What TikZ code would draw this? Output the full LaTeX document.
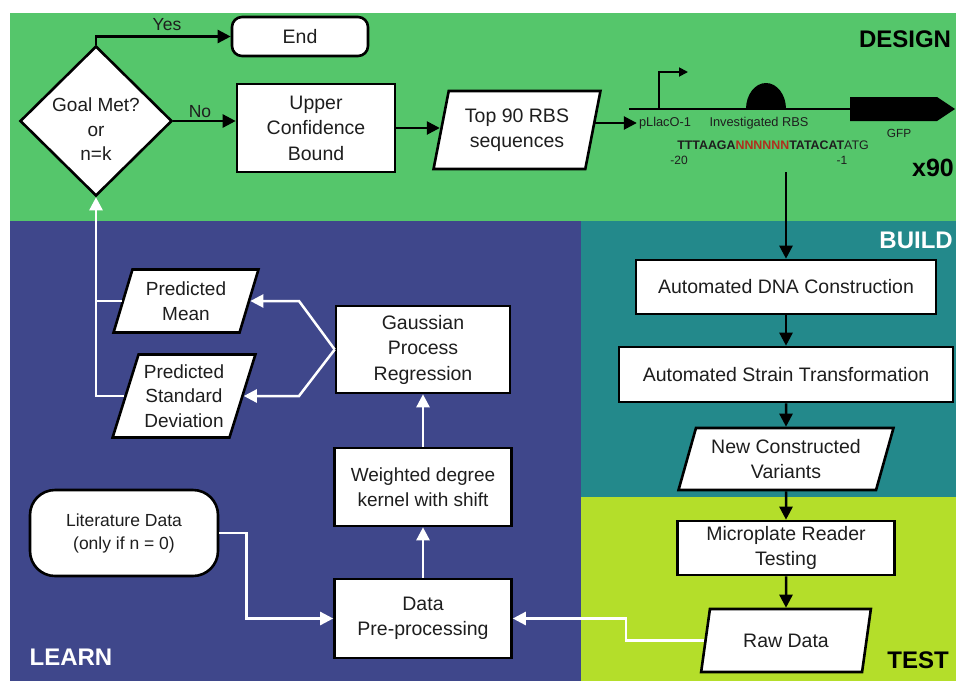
\documentclass[tikz,border=0pt]{standalone}
\usepackage{fontspec}
\setmainfont{Liberation Sans}
\usetikzlibrary{shapes.geometric,arrows.meta,calc}
\definecolor{dgreen}{HTML}{55C66B}
\definecolor{lblue}{HTML}{3F478B}
\definecolor{tealc}{HTML}{23898B}
\definecolor{limec}{HTML}{B4DE2A}
\definecolor{seqred}{HTML}{B0301E}
\definecolor{txtc}{HTML}{1E1E1E}
\newcommand\fsz[2]{\fontsize{#1}{#2}\selectfont}
\begin{document}
\begin{tikzpicture}[x=1pt,y=-1pt,
  bx/.style={draw=black, line width=2.6pt, fill=white, align=center, inner sep=0pt, font=\fsz{19.5}{25.5}, text=txtc},
  pbox/.style={bx, trapezium, trapezium left angle=70, trapezium right angle=110, trapezium stretches=true},
  rbox/.style={bx, rounded corners=10pt},
  barrow/.style={line width=2.5pt, draw=black, -{Triangle[length=13pt,width=13pt]}},
  warrow/.style={line width=2.5pt, draw=white, -{Triangle[length=13pt,width=13pt]}},
  wline/.style={line width=2.5pt, draw=white},
  phase/.style={font=\bfseries\fsz{24}{24}, inner sep=0pt},
  lbl/.style={font=\fsz{17.5}{20}, text=txtc, inner sep=1pt},
  gl/.style={font=\fsz{12.8}{14}, text=txtc, inner sep=2pt},
]
\useasboundingbox (0,0) rectangle (956,681);
\fill[white] (0,0) rectangle (956,681);
\fill[dgreen] (10,13) rectangle (956,221);
\fill[lblue] (10,221) rectangle (581,681);
\fill[tealc] (581,221) rectangle (956,497);
\fill[limec] (581,497) rectangle (956,681);

% phase labels
\node[phase, text=black] (design) at (905,39) {DESIGN};
\node[phase, text=white, anchor=east] (build) at (953,240) {BUILD};
\node[phase, text=black] (test) at (918,660) {TEST};
\node[phase, text=white] (learn) at (71,657) {LEARN};

% design nodes
\node[bx, diamond, minimum width=152pt, minimum height=150pt] (dia) at (96,121) {};
\node[font=\fsz{19}{24.5}, text=txtc, align=center, inner sep=0pt] (diatext) at (96,129.5) {Goal Met?\\or\\n=k};
\node[rbox, minimum width=136pt, minimum height=39pt] (end) at (300,36.5) {End};
\node[bx, minimum width=158pt, minimum height=88pt] (ucb) at (316,128) {Upper\\Confidence\\Bound};
\node[pbox, trapezium left angle=75, trapezium right angle=105, minimum width=167pt, minimum height=78pt] (top) at (517,130) {Top 90 RBS\\sequences};

\draw[barrow] (dia.north) |- (end.west);
\node[lbl] (yes) at (167,25) {Yes};
\draw[barrow] (dia.east) -- (dia.east -| ucb.west);
\node[lbl] (no) at (200,112) {No};
\draw[barrow] (ucb.east) -- (ucb.east -| top.west);

% construct
\node[gl] (plac) at (665,123) {pLlacO-1};
\draw[barrow] (top.east |- plac.west) -- (plac.west);
\draw[line width=1.5pt] (629,109) -- (850,109);
\draw[line width=1.8pt, -{Triangle[length=9pt,width=9pt]}] (659,109) -- (659,72) -- (688,72);
\fill (746,109) .. controls (746,94.6) and (755,83) .. (766,83) .. controls (777,83) and (786,94.6) .. (786,109) -- cycle;
\fill (850,97) -- (937,97) -- (955,109) -- (937,121) -- (850,121) -- cycle;
\node[gl] (rbs) at (759,123) {Investigated RBS};
\node[gl, font=\fsz{11.8}{13}] (gfp) at (899,133) {GFP};
\node[gl, font=\fsz{12.4}{14}] (seq) at (773,145) {\textbf{TTTAAGA}\textcolor{seqred}{\textbf{NNNNNN}}\textbf{TATACAT}ATG};
\node[gl, font=\fsz{12}{13}] (m20) at (679,160) {-20};
\node[gl, font=\fsz{12}{13}] (m1) at (842,160) {-1};
\node[phase, text=black, font=\bfseries\fsz{25}{25}] (x90) at (933,168) {x90};
\coordinate (seqend) at (786,172);

% build / test
\node[bx, minimum width=300pt, minimum height=54pt] (dna) at (786,287) {Automated DNA Construction};
\node[bx, minimum width=334pt, minimum height=55pt] (str) at (786,374.5) {Automated Strain Transformation};
\node[pbox, minimum width=215pt, minimum height=62pt] (ncv) at (786,459) {New Constructed\\Variants};
\node[bx, minimum width=217pt, minimum height=54pt] (mic) at (786,548) {Microplate Reader\\Testing};
\node[pbox, minimum width=171pt, minimum height=63pt] (raw) at (786,640.5) {Raw Data};

\draw[barrow] (seqend) -- (dna.north);
\draw[barrow] (dna.south) -- (str.north);
\draw[barrow] (str.south) -- (ncv.north);
\draw[barrow] (ncv.south) -- (mic.north);
\draw[barrow] (mic.south) -- (raw.north);

% learn
\node[bx, minimum width=174pt, minimum height=87pt] (gpr) at (423,349.5) {Gaussian\\Process\\Regression};
\node[bx, minimum width=177pt, minimum height=78pt, font=\fsz{19}{24.5}] (wdk) at (423,487) {Weighted degree\\kernel with shift};
\node[bx, minimum width=177pt, minimum height=79pt] (dpp) at (423,618.5) {Data\\Pre-processing};
\node[bx, rounded corners=25pt, minimum width=188pt, minimum height=86pt, font=\fsz{17.5}{23}] (lit) at (124,533) {Literature Data\\(only if n = 0)};
\node[pbox, minimum width=145pt, minimum height=63pt, font=\fsz{19}{25}] (pm) at (186,301) {Predicted\\Mean};
\node[pbox, minimum width=143pt, minimum height=83pt, font=\fsz{19}{24.5}] (ps) at (184,396) {Predicted\\Standard\\Deviation};

\coordinate (jm) at (299,301);
\coordinate (js) at (299,396);
\draw[warrow] (gpr.west) -- (jm) -- (pm.east);
\draw[warrow] (gpr.west) -- (js) -- (ps.east);
\draw[wline] (pm.west) -- (pm.west -| dia.south);
\draw[warrow] (ps.west) -- (ps.west -| dia.south) -- (dia.south);
\draw[warrow] (wdk.north) -- (gpr.south);
\draw[warrow] (dpp.north) -- (wdk.south);
\draw[warrow] (lit.east) -- ++(27,0) |- (dpp.west);
\draw[warrow] (raw.west) -- ++(-78,0) |- (dpp.east);
\end{tikzpicture}
\end{document}
